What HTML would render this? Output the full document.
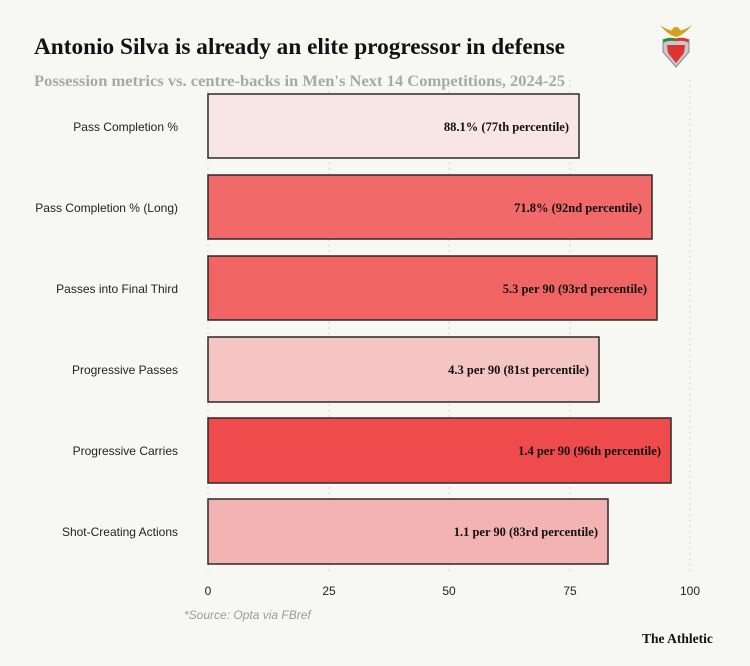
<!DOCTYPE html>
<html><head><meta charset="utf-8"><style>
body{margin:0;background:#f7f7f3;}
svg{display:block}
.lab{font-family:"Liberation Sans",sans-serif;font-size:12px;fill:#222;text-anchor:end}
.val{font-family:"Liberation Serif",serif;font-size:12.5px;font-weight:bold;fill:#111;text-anchor:end}
.tick{font-family:"Liberation Sans",sans-serif;font-size:12px;fill:#222;text-anchor:middle}
</style></head><body>
<svg width="750" height="666" viewBox="0 0 750 666">
<rect width="750" height="666" fill="#f7f7f3"/>
<text x="34" y="54" font-family="Liberation Serif,serif" font-weight="bold" font-size="23" fill="#121212" textLength="531" lengthAdjust="spacingAndGlyphs">Antonio Silva is already an elite progressor in defense</text>
<text x="34" y="86" font-family="Liberation Serif,serif" font-weight="bold" font-size="16" fill="#a8a8a8" textLength="531" lengthAdjust="spacingAndGlyphs">Possession metrics vs. centre-backs in Men's Next 14 Competitions, 2024-25</text>
<g transform="translate(676,45)">
<path d="M-16,-20 Q0,-8 16,-20 Q8,-10 0,-8 Q-8,-10 -16,-20Z" fill="#d4a21a"/>
<circle cx="0" cy="-14" r="4" fill="#d4a21a"/>
<path d="M-13,-3 Q0,-9 13,-3 L13,7 Q0,22 0,22 Q0,22 -13,7Z" fill="#c8c8c8" stroke="#888"/>
<path d="M-9,0 L9,0 L8,8 Q0,18 0,18 Q-8,8 -8,8Z" fill="#d33"/>
<path d="M-13,-4 Q-6,-7 0,-5" stroke="#2a8a3a" stroke-width="3" fill="none"/>
<path d="M13,-4 Q6,-7 0,-5" stroke="#d33" stroke-width="3" fill="none"/>
</g>
<g stroke="#c9c9c4" stroke-dasharray="1.5,4" stroke-width="1">
<line x1="208" y1="80" x2="208" y2="572"/><line x1="329" y1="80" x2="329" y2="572"/><line x1="449" y1="80" x2="449" y2="572"/><line x1="570" y1="80" x2="570" y2="572"/><line x1="690" y1="80" x2="690" y2="572"/>
</g>
<g stroke="#2a2a2a" stroke-width="1.5">
<rect x="208" y="94" width="371" height="64" fill="#f7e6e3"/>
<rect x="208" y="175" width="444" height="64" fill="#f16a69"/>
<rect x="208" y="256" width="449" height="64" fill="#f06564"/>
<rect x="208" y="337" width="391" height="65" fill="#f4c5c3"/>
<rect x="208" y="418" width="463" height="65" fill="#ef4b4c"/>
<rect x="208" y="499" width="400" height="65" fill="#f3b3b2"/>
</g>
<text class="lab" x="178" y="131">Pass Completion %</text>
<text class="lab" x="178" y="212">Pass Completion % (Long)</text>
<text class="lab" x="178" y="293">Passes into Final Third</text>
<text class="lab" x="178" y="374">Progressive Passes</text>
<text class="lab" x="178" y="455">Progressive Carries</text>
<text class="lab" x="178" y="536">Shot-Creating Actions</text>
<text class="val" x="569" y="131">88.1% (77th percentile)</text>
<text class="val" x="642" y="212">71.8% (92nd percentile)</text>
<text class="val" x="647" y="293">5.3 per 90 (93rd percentile)</text>
<text class="val" x="589" y="374">4.3 per 90 (81st percentile)</text>
<text class="val" x="661" y="455">1.4 per 90 (96th percentile)</text>
<text class="val" x="598" y="536">1.1 per 90 (83rd percentile)</text>
<text class="tick" x="208" y="595">0</text><text class="tick" x="329" y="595">25</text><text class="tick" x="449" y="595">50</text><text class="tick" x="570" y="595">75</text><text class="tick" x="690" y="595">100</text>
<text x="184" y="619" font-family="Liberation Sans,sans-serif" font-style="italic" font-size="12" fill="#9a9a9a">*Source: Opta via FBref</text>
<text x="642" y="643" font-family="Liberation Serif,serif" font-weight="bold" font-size="13.5" fill="#121212">The Athletic</text>
</svg>
</body></html>
